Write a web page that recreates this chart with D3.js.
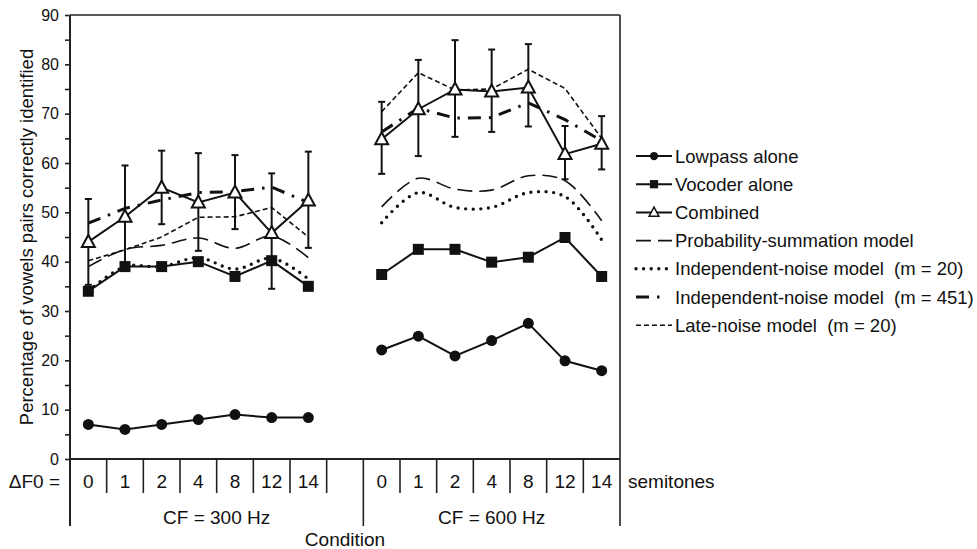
<!DOCTYPE html>
<html>
<head>
<meta charset="utf-8">
<script src="https://cdn.jsdelivr.net/npm/d3@7"></script>
<style>
  body { margin: 0; background: #fff; }
  svg text { font-family: "Liberation Sans", Arial, sans-serif; fill: #111; white-space: pre; }
</style>
</head>
<body>
<script>
// conditions: 7 delta-F0 steps for each CF, blank slot between them
var cfLabels = ["CF = 300 Hz", "CF = 600 Hz"];
var deltaF0 = ["0", "1", "2", "4", "8", "12", "14"];
var yTicks = [0, 10, 20, 30, 40, 50, 60, 70, 80, 90];

// values (first 7 = CF 300 Hz, last 7 = CF 600 Hz)
var lowpass   = [7, 6, 7, 8, 9, 8.4, 8.4, 22.1, 24.9, 20.9, 24, 27.5, 19.9, 17.9];
var vocoder   = [34, 39, 39, 40, 37, 40.2, 35, 37.4, 42.5, 42.5, 39.9, 40.9, 44.9, 37];
var combined  = [44, 49.1, 55, 52, 54, 45.8, 52.4, 64.8, 70.9, 74.9, 74.5, 75.3, 61.8, 63.9];
var combHigh  = [52.7, 59.5, 62.5, 62, 61.6, 57.9, 62.3, 72.4, 80.9, 84.9, 83, 84.1, 67.5, 69.5];
var combLow   = [35.3, 38.8, 47.6, 42.2, 46.6, 34.5, 42.8, 57.8, 61.4, 65.3, 66.3, 67.4, 56.7, 58.7];
var probSum   = [39, 42.5, 43.3, 44.8, 42.7, 45.2, 40.8, 51.1, 56.9, 54.7, 54.5, 57.4, 56.4, 48.3];
var indep20   = [34, 39, 39, 40.8, 38.5, 40.7, 36.5, 47.9, 54, 51, 51, 54, 53.2, 44.4];
var indep451  = [47.8, 50.8, 52.5, 54, 54.2, 55.1, 52, 66.3, 71.1, 69.1, 69.2, 72.2, 68.8, 64.5];
var lateNoise = [40.2, 42.4, 45, 49, 49.1, 51, 45, 70.4, 78.3, 74.8, 75, 79, 75.1, 65];

var width = 977, height = 549;
var margin = {top: 15, left: 70, right: 357, bottom: 90};
var plotW = width - margin.left - margin.right;
var plotH = height - margin.top - margin.bottom;

var slots = deltaF0.map(function(d) { return "a" + d; })
                   .concat(["gap"])
                   .concat(deltaF0.map(function(d) { return "b" + d; }));
var keys = slots.filter(function(d) { return d !== "gap"; });

var x = d3.scaleBand().domain(slots).range([margin.left, margin.left + plotW]);
var y = d3.scaleLinear().domain([0, 90]).range([margin.top + plotH, margin.top]);

function xc(i) { return x(keys[i]) + x.bandwidth() / 2; }

var svg = d3.select("body").append("svg")
            .attr("width", width)
            .attr("height", height);

// series definitions
var series = [
  {name: "Lowpass alone", values: lowpass, dash: null, w: 2, marker: "circle", curve: d3.curveLinear},
  {name: "Vocoder alone", values: vocoder, dash: null, w: 2, marker: "square", curve: d3.curveLinear},
  {name: "Combined", values: combined, dash: null, w: 2, marker: "triangle", curve: d3.curveLinear},
  {name: "Probability-summation model", values: probSum, dash: "15,7", w: 1.6, cap: "butt", curve: d3.curveCatmullRom},
  {name: "Independent-noise model  (m = 20)", values: indep20, dash: "0,7.6", w: 3.4, cap: "round", curve: d3.curveCatmullRom},
  {name: "Independent-noise model  (m = 451)", values: indep451, dash: "13,8,2.5,8", w: 3, cap: "butt", curve: d3.curveLinear, legLen: 24},
  {name: "Late-noise model  (m = 20)", values: lateNoise, dash: "5,3", w: 1.6, cap: "butt", curve: d3.curveLinear}
];

// frame and axes
var plot = svg.append("g");
plot.append("line")
    .attr("x1", margin.left).attr("x2", margin.left + plotW)
    .attr("y1", margin.top).attr("y2", margin.top)
    .attr("stroke", "#222").attr("stroke-width", 1.6);
plot.append("line")
    .attr("x1", margin.left + plotW).attr("x2", margin.left + plotW)
    .attr("y1", margin.top).attr("y2", 526)
    .attr("stroke", "#222").attr("stroke-width", 1.6);

var yAxis = d3.axisLeft(y)
              .tickValues(d3.range(0, 91, 5))
              .tickSize(5)
              .tickFormat(function(d) { return yTicks.indexOf(d) >= 0 ? d : ""; });
var yg = svg.append("g")
            .attr("transform", "translate(" + margin.left + ",0)")
            .call(yAxis);
yg.select(".domain").remove();
yg.selectAll(".tick line").attr("stroke", "#222").attr("stroke-width", 1.6);
yg.selectAll(".tick text")
  .attr("x", -11)
  .style("font-size", "16px")
  .style("font-family", "Liberation Sans, Arial, sans-serif");
svg.append("line")
   .attr("x1", margin.left).attr("x2", margin.left)
   .attr("y1", margin.top).attr("y2", 526)
   .attr("stroke", "#222").attr("stroke-width", 2);

// bottom axis with category separators
var y0 = y(0);
svg.append("line")
   .attr("x1", margin.left).attr("x2", margin.left + plotW)
   .attr("y1", y0).attr("y2", y0)
   .attr("stroke", "#222").attr("stroke-width", 2);

var bounds = slots.slice(1).map(function(s) { return x(s); });
svg.selectAll(".sep")
   .data(bounds)
   .enter()
   .append("line")
   .attr("x1", function(d) { return d; })
   .attr("x2", function(d) { return d; })
   .attr("y1", y0)
   .attr("y2", function(d) { return d === x("b0") ? 526 : 493; })
   .attr("stroke", "#222")
   .attr("stroke-width", 1.6);

svg.selectAll(".df0")
   .data(keys)
   .enter()
   .append("text")
   .attr("x", function(d) { return x(d) + x.bandwidth() / 2; })
   .attr("y", 488)
   .attr("text-anchor", "middle")
   .style("font-size", "19px")
   .text(function(d) { return d.slice(1); });

svg.append("text")
   .attr("x", 60).attr("y", 488)
   .attr("text-anchor", "end")
   .style("font-size", "19px")
   .text("\u0394F0 =");
svg.append("text")
   .attr("x", 628).attr("y", 488)
   .style("font-size", "19px")
   .text("semitones");

svg.selectAll(".cf")
   .data(cfLabels)
   .enter()
   .append("text")
   .attr("x", function(d, i) {
      return i === 0 ? (margin.left + x("b0")) / 2 : (x("b0") + margin.left + plotW) / 2;
   })
   .attr("y", 524)
   .attr("text-anchor", "middle")
   .style("font-size", "19px")
   .text(function(d) { return d; });

svg.append("text")
   .attr("x", margin.left + plotW / 2).attr("y", 546)
   .attr("text-anchor", "middle")
   .style("font-size", "19px")
   .text("Condition");

svg.append("text")
   .attr("transform", "translate(33," + (margin.top + plotH / 2) + ") rotate(-90)")
   .attr("text-anchor", "middle")
   .style("font-size", "18.5px")
   .text("Percentage of vowels pairs correctly identified");

// error bars for combined condition
var eb = svg.append("g");
combined.forEach(function(v, i) {
  var cx = xc(i);
  eb.append("line").attr("x1", cx).attr("x2", cx)
    .attr("y1", y(combHigh[i])).attr("y2", y(combLow[i]))
    .attr("stroke", "#111").attr("stroke-width", 2);
  [combHigh[i], combLow[i]].forEach(function(e) {
    eb.append("line").attr("x1", cx - 3.5).attr("x2", cx + 3.5)
      .attr("y1", y(e)).attr("y2", y(e))
      .attr("stroke", "#111").attr("stroke-width", 2);
  });
});

// model lines first, then measured lines on top
var drawOrder = [3, 4, 5, 6, 0, 1, 2];
drawOrder.forEach(function(si) {
  var s = series[si];
  var line = d3.line()
               .x(function(d) { return xc(d.i); })
               .y(function(d) { return y(d.v); })
               .curve(s.curve);
  [0, 7].forEach(function(start) {
    var pts = s.values.slice(start, start + 7).map(function(v, k) { return {i: start + k, v: v}; });
    svg.append("path")
       .datum(pts)
       .attr("d", line)
       .attr("fill", "none")
       .attr("stroke", "#111")
       .attr("stroke-width", s.w)
       .attr("stroke-linecap", s.cap || "butt")
       .attr("stroke-dasharray", s.dash);
  });
});

function drawMarker(g, type, cx, cy) {
  if (type === "circle") {
    g.append("circle").attr("cx", cx).attr("cy", cy).attr("r", 5.5).attr("fill", "#111");
  } else if (type === "square") {
    g.append("rect").attr("x", cx - 5.5).attr("y", cy - 5.5)
     .attr("width", 11).attr("height", 11).attr("fill", "#111");
  } else if (type === "triangle") {
    g.append("path")
     .attr("d", "M" + cx + "," + (cy - 7) + "L" + (cx + 6.5) + "," + (cy + 5) + "L" + (cx - 6.5) + "," + (cy + 5) + "Z")
     .attr("fill", "#fff").attr("stroke", "#111").attr("stroke-width", 2);
  }
}

var mk = svg.append("g");
series.slice(0, 3).forEach(function(s) {
  s.values.forEach(function(v, i) { drawMarker(mk, s.marker, xc(i), y(v)); });
});

// legend
var legend = svg.append("g");
series.forEach(function(s, i) {
  var ly = 156 + i * 28.2;
  legend.append("line")
        .attr("x1", 636).attr("x2", 636 + (s.legLen || 36))
        .attr("y1", ly).attr("y2", ly)
        .attr("stroke", "#111")
        .attr("stroke-width", s.w)
        .attr("stroke-linecap", s.cap || "butt")
        .attr("stroke-dasharray", s.dash);
  if (s.marker) {
    var small = legend.append("g")
                      .attr("transform", "translate(" + 654 + "," + ly + ") scale(0.75) translate(-654," + (-ly) + ")");
    drawMarker(small, s.marker, 654, ly);
  }
  legend.append("text")
        .attr("x", 675).attr("y", ly + 6.5)
        .style("font-size", "18.5px")
        .text(s.name);
});
</script>
</body>
</html>
